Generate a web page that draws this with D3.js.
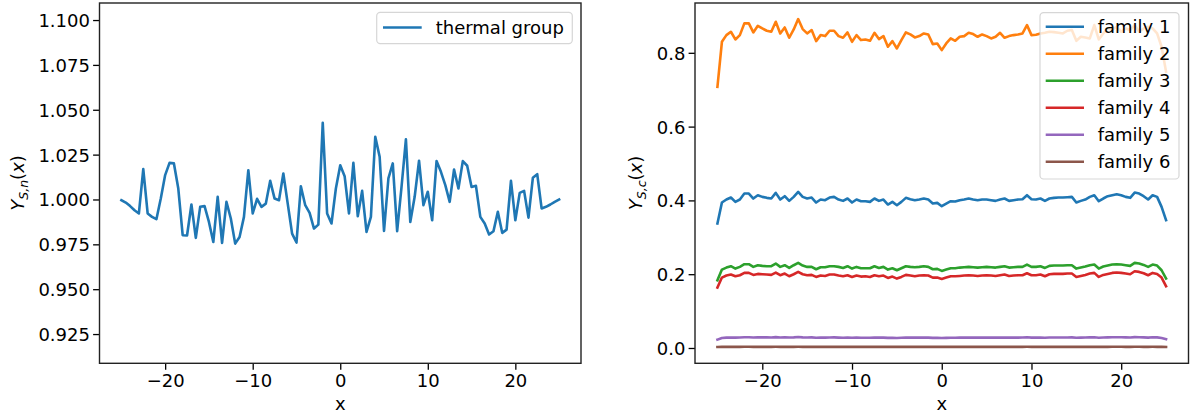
<!DOCTYPE html>
<html>
<head>
<meta charset="utf-8">
<script src="https://cdn.jsdelivr.net/npm/d3@7"></script>
<style>
  html, body { margin: 0; padding: 0; background: #fff; }
  svg { display: block; font-family: "DejaVu Sans", sans-serif; }
</style>
</head>
<body>
<svg id="chart" width="1191" height="418"></svg>
<script>
// ---------------- data ----------------
const xValues = d3.range(0, 101).map(i => -25 + 0.5 * i);

const thermalGroup = [
  0.9996, 0.9983, 0.9963, 0.9940, 0.9922, 1.0169, 0.9922, 0.9903, 0.9890, 1.0005,
  1.0136, 1.0204, 1.0201, 1.0061, 0.9801, 0.9799, 0.9972, 0.9786, 0.9959, 0.9963,
  0.9875, 0.9763, 1.0015, 0.9758, 0.9987, 0.9894, 0.9754, 0.9791, 0.9903, 1.0163,
  0.9922, 1.0004, 0.9959, 0.9977, 1.0104, 1.0005, 0.9996, 1.0145, 0.9977, 0.9810,
  0.9760, 1.0074, 0.9968, 0.9925, 0.9838, 0.9860, 1.0427, 0.9922, 0.9866, 1.0061,
  1.0191, 1.0130, 0.9922, 1.0204, 0.9907, 1.0048, 0.9819, 0.9903, 1.0349, 1.0238,
  0.9825, 1.0117, 1.0201, 0.9823, 1.0070, 1.0335, 0.9875, 1.0015, 1.0216, 0.9968,
  1.0043, 0.9884, 1.0214, 1.0154, 1.0080, 0.9987, 1.0167, 1.0061, 1.0214, 1.0188,
  1.0070, 1.0076, 0.9903, 0.9866, 0.9805, 0.9823, 0.9931, 0.9814, 0.9832, 1.0104,
  0.9884, 1.0037, 1.0048, 0.9899, 1.0121, 1.0141, 0.9950, 0.9959, 0.9972, 0.9987,
  1.0000
];

const family1 = [
  0.3373, 0.3942, 0.4024, 0.4078, 0.3960, 0.4024, 0.4186, 0.4186, 0.4051, 0.4141,
  0.4096, 0.4069, 0.4051, 0.4204, 0.4024, 0.4114, 0.3987, 0.4096, 0.4231, 0.4096,
  0.4051, 0.4078, 0.3942, 0.4024, 0.4005, 0.4078, 0.4096, 0.4024, 0.3987, 0.4051,
  0.3942, 0.4024, 0.3978, 0.3978, 0.3960, 0.4051, 0.3987, 0.4024, 0.3888, 0.3960,
  0.3870, 0.3960, 0.4069, 0.4033, 0.4005, 0.4024, 0.4051, 0.4024, 0.3915, 0.3933,
  0.3843, 0.3915, 0.3978, 0.3969, 0.4005, 0.4024, 0.4051, 0.4024, 0.4005, 0.4024,
  0.4024, 0.4005, 0.3987, 0.4024, 0.4051, 0.3987, 0.4005, 0.4024, 0.4033, 0.4141,
  0.4033, 0.4024, 0.4051, 0.3987, 0.4051, 0.4069, 0.4078, 0.4078, 0.4087, 0.4096,
  0.3942, 0.3987, 0.4024, 0.4096, 0.4141, 0.3978, 0.4051, 0.4114, 0.4141, 0.4168,
  0.4141, 0.4096, 0.4069, 0.4213, 0.4186, 0.4114, 0.4024, 0.4141, 0.4096, 0.3825,
  0.3463
];

const family2 = [
  0.7079, 0.8299, 0.8480, 0.8570, 0.8362, 0.8480, 0.8797, 0.8797, 0.8552, 0.8733,
  0.8661, 0.8598, 0.8570, 0.8842, 0.8525, 0.8688, 0.8408, 0.8634, 0.8914, 0.8643,
  0.8525, 0.8616, 0.8317, 0.8480, 0.8453, 0.8598, 0.8598, 0.8453, 0.8408, 0.8552,
  0.8299, 0.8480, 0.8345, 0.8362, 0.8326, 0.8543, 0.8371, 0.8453, 0.8164, 0.8317,
  0.8118, 0.8345, 0.8552, 0.8498, 0.8417, 0.8453, 0.8525, 0.8498, 0.8236, 0.8254,
  0.8073, 0.8254, 0.8390, 0.8326, 0.8435, 0.8453, 0.8543, 0.8507, 0.8435, 0.8498,
  0.8453, 0.8390, 0.8435, 0.8543, 0.8408, 0.8453, 0.8480, 0.8498, 0.8525, 0.8751,
  0.8480, 0.8489, 0.8525, 0.8543, 0.8570, 0.8561, 0.8543, 0.8525, 0.8598, 0.8616,
  0.8326, 0.8435, 0.8417, 0.8390, 0.8751, 0.8362, 0.8525, 0.8661, 0.8634, 0.8706,
  0.8570, 0.8661, 0.8616, 0.8751, 0.8570, 0.8661, 0.8706, 0.8661, 0.8525, 0.8164,
  0.7485
];

const family3 = [
  0.1836, 0.2125, 0.2179, 0.2216, 0.2152, 0.2198, 0.2270, 0.2270, 0.2198, 0.2243,
  0.2225, 0.2216, 0.2216, 0.2288, 0.2198, 0.2243, 0.2170, 0.2243, 0.2306, 0.2234,
  0.2198, 0.2198, 0.2134, 0.2188, 0.2188, 0.2216, 0.2216, 0.2198, 0.2170, 0.2216,
  0.2152, 0.2198, 0.2161, 0.2161, 0.2161, 0.2216, 0.2170, 0.2198, 0.2125, 0.2161,
  0.2107, 0.2161, 0.2216, 0.2198, 0.2188, 0.2198, 0.2216, 0.2198, 0.2134, 0.2143,
  0.2089, 0.2125, 0.2161, 0.2161, 0.2179, 0.2188, 0.2198, 0.2188, 0.2179, 0.2188,
  0.2198, 0.2188, 0.2179, 0.2198, 0.2216, 0.2179, 0.2188, 0.2198, 0.2198, 0.2261,
  0.2198, 0.2198, 0.2216, 0.2170, 0.2225, 0.2234, 0.2234, 0.2234, 0.2243, 0.2243,
  0.2152, 0.2179, 0.2207, 0.2243, 0.2261, 0.2152, 0.2207, 0.2234, 0.2261, 0.2270,
  0.2261, 0.2243, 0.2225, 0.2306, 0.2288, 0.2252, 0.2198, 0.2261, 0.2234, 0.2107,
  0.1881
];

const family4 = [
  0.1637, 0.1908, 0.1963, 0.1990, 0.1944, 0.1972, 0.2035, 0.2035, 0.1981, 0.2008,
  0.1999, 0.1990, 0.1981, 0.2044, 0.1972, 0.2017, 0.1944, 0.1999, 0.2062, 0.1999,
  0.1972, 0.1981, 0.1926, 0.1963, 0.1953, 0.1990, 0.1990, 0.1963, 0.1944, 0.1972,
  0.1926, 0.1963, 0.1935, 0.1944, 0.1926, 0.1972, 0.1944, 0.1963, 0.1899, 0.1935,
  0.1881, 0.1926, 0.1981, 0.1963, 0.1944, 0.1963, 0.1972, 0.1963, 0.1908, 0.1908,
  0.1872, 0.1908, 0.1944, 0.1944, 0.1953, 0.1963, 0.1972, 0.1963, 0.1953, 0.1963,
  0.1972, 0.1963, 0.1953, 0.1972, 0.1990, 0.1953, 0.1963, 0.1972, 0.1972, 0.2026,
  0.1972, 0.1972, 0.1990, 0.1944, 0.1999, 0.2008, 0.2008, 0.2008, 0.2017, 0.2017,
  0.1926, 0.1953, 0.1981, 0.2017, 0.2035, 0.1926, 0.1981, 0.2008, 0.2035, 0.2044,
  0.2035, 0.2017, 0.1999, 0.2080, 0.2062, 0.2026, 0.1972, 0.2035, 0.2008, 0.1908,
  0.1673
];

const family5 = [
  0.0227, 0.0272, 0.0281, 0.0285, 0.0281, 0.0285, 0.0292, 0.0292, 0.0285, 0.0290,
  0.0288, 0.0287, 0.0286, 0.0295, 0.0285, 0.0290, 0.0283, 0.0288, 0.0297, 0.0287,
  0.0285, 0.0287, 0.0278, 0.0283, 0.0282, 0.0286, 0.0287, 0.0282, 0.0279, 0.0284,
  0.0277, 0.0282, 0.0279, 0.0279, 0.0278, 0.0284, 0.0280, 0.0282, 0.0274, 0.0278,
  0.0272, 0.0278, 0.0285, 0.0282, 0.0281, 0.0282, 0.0284, 0.0282, 0.0275, 0.0276,
  0.0270, 0.0274, 0.0278, 0.0278, 0.0280, 0.0281, 0.0283, 0.0281, 0.0280, 0.0281,
  0.0282, 0.0281, 0.0280, 0.0282, 0.0284, 0.0280, 0.0281, 0.0282, 0.0283, 0.0290,
  0.0282, 0.0282, 0.0284, 0.0279, 0.0284, 0.0285, 0.0285, 0.0286, 0.0286, 0.0287,
  0.0278, 0.0281, 0.0283, 0.0287, 0.0290, 0.0279, 0.0284, 0.0288, 0.0290, 0.0291,
  0.0290, 0.0287, 0.0285, 0.0294, 0.0292, 0.0288, 0.0282, 0.0290, 0.0287, 0.0270,
  0.0237
];

const family6 = [
  0.0026, 0.0030, 0.0031, 0.0031, 0.0030, 0.0031, 0.0032, 0.0032, 0.0031, 0.0031,
  0.0031, 0.0031, 0.0031, 0.0032, 0.0031, 0.0031, 0.0030, 0.0031, 0.0032, 0.0031,
  0.0031, 0.0031, 0.0030, 0.0031, 0.0031, 0.0031, 0.0031, 0.0031, 0.0030, 0.0031,
  0.0030, 0.0031, 0.0030, 0.0030, 0.0030, 0.0031, 0.0030, 0.0031, 0.0030, 0.0030,
  0.0029, 0.0030, 0.0031, 0.0031, 0.0030, 0.0031, 0.0031, 0.0031, 0.0030, 0.0030,
  0.0029, 0.0030, 0.0030, 0.0030, 0.0030, 0.0030, 0.0031, 0.0030, 0.0030, 0.0030,
  0.0030, 0.0030, 0.0030, 0.0031, 0.0031, 0.0030, 0.0030, 0.0031, 0.0031, 0.0032,
  0.0031, 0.0030, 0.0031, 0.0030, 0.0031, 0.0031, 0.0031, 0.0031, 0.0031, 0.0031,
  0.0030, 0.0030, 0.0031, 0.0031, 0.0032, 0.0030, 0.0031, 0.0031, 0.0032, 0.0032,
  0.0032, 0.0031, 0.0031, 0.0032, 0.0032, 0.0031, 0.0031, 0.0032, 0.0031, 0.0029,
  0.0026
];

const familyNames = ["family 1", "family 2", "family 3", "family 4", "family 5", "family 6"];
const familyColors = ["#1f77b4", "#ff7f0e", "#2ca02c", "#d62728", "#9467bd", "#8c564b"];
const familySeries = [family1, family2, family3, family4, family5, family6];

const leftXTicks = [-20, -10, 0, 10, 20];
const leftYTicks = [0.925, 0.950, 0.975, 1.000, 1.025, 1.050, 1.075, 1.100];
const rightXTicks = [-20, -10, 0, 10, 20];
const rightYTicks = [0.0, 0.2, 0.4, 0.6, 0.8];

// ---------------- drawing ----------------
const svg = d3.select("#chart");
const FS = 18;
const LW = 2.6;
const fmtMinus = s => s.replace("-", "\u2212");

function drawAxes(g, x, y, xTicks, yTicks, yFmt) {
  const [x0, x1] = x.range();
  const [y0, y1] = y.range(); // y0 bottom, y1 top
  const ax = g.append("g").attr("transform", `translate(0,${y0})`)
    .call(d3.axisBottom(x).tickValues(xTicks).tickSize(6.4).tickPadding(3)
      .tickFormat(d => fmtMinus(d3.format("d")(d))));
  const ay = g.append("g").attr("transform", `translate(${x0},0)`)
    .call(d3.axisLeft(y).tickValues(yTicks).tickSize(6.4).tickPadding(3.2)
      .tickFormat(d => fmtMinus(yFmt(d))));
  [ax, ay].forEach(a => {
    a.select(".domain").remove();
    a.selectAll(".tick line").attr("stroke", "#000").attr("stroke-width", 1.3);
    a.selectAll(".tick text").attr("fill", "#000").attr("font-size", FS)
      .attr("font-family", "DejaVu Sans, sans-serif");
  });
  ax.selectAll(".tick text").attr("dy", "0.8em");
  ay.selectAll(".tick text").attr("dy", "0.36em");
  // frame
  g.append("rect").attr("x", x0).attr("y", y1).attr("width", x1 - x0).attr("height", y0 - y1)
    .attr("fill", "none").attr("stroke", "#222").attr("stroke-width", 1.4);
}

function mathLabel(g, tx, ty, sub) {
  const t = g.append("text")
    .attr("transform", `translate(${tx},${ty}) rotate(-90)`)
    .attr("text-anchor", "middle").attr("font-size", FS).attr("fill", "#000");
  t.append("tspan").attr("font-style", "italic").text("Y");
  t.append("tspan").attr("font-style", "italic").attr("font-size", FS * 0.7).attr("dy", 4).text(sub);
  t.append("tspan").attr("dy", -4).text("(");
  t.append("tspan").attr("font-style", "italic").text("x");
  t.append("tspan").text(")");
}

function legend(g, bx, by, bw, bh, rows) {
  g.append("rect").attr("x", bx).attr("y", by).attr("width", bw).attr("height", bh)
    .attr("rx", 3.6).attr("ry", 3.6)
    .attr("fill", "#fff").attr("fill-opacity", 0.8)
    .attr("stroke", "#cccccc").attr("stroke-opacity", 0.8).attr("stroke-width", 1.2);
  rows.forEach(r => {
    g.append("line").attr("x1", r.lx1).attr("x2", r.lx2).attr("y1", r.cy).attr("y2", r.cy)
      .attr("stroke", r.color).attr("stroke-width", LW);
    g.append("text").attr("x", r.tx).attr("y", r.cy + 6.6).attr("font-size", FS)
      .attr("fill", "#000").text(r.label);
  });
}

// ---- left panel ----
const gL = svg.append("g");
const xL = d3.scaleLinear().domain([-27.5, 27.5]).range([99.5, 581]);
const yL = d3.scaleLinear().domain([0.9087, 1.1095]).range([363.3, 3]);
drawAxes(gL, xL, yL, leftXTicks, leftYTicks, d3.format(".3f"));

const lineL = d3.line().x((d, i) => xL(xValues[i])).y(d => yL(d));
gL.append("path").datum(thermalGroup).attr("d", lineL)
  .attr("fill", "none").attr("stroke", "#1f77b4").attr("stroke-width", LW)
  .attr("stroke-linejoin", "round").attr("stroke-linecap", "square");

gL.append("text").attr("x", (99.5 + 581) / 2).attr("y", 410).attr("text-anchor", "middle")
  .attr("font-size", FS).attr("fill", "#000").text("x");
mathLabel(gL, 24, 183, "S,n");

legend(gL, 376.7, 12.3, 195.6, 31.4, [
  { lx1: 383, lx2: 421.7, cy: 27.5, tx: 435.7, color: "#1f77b4", label: "thermal group" }
]);

// ---- right panel ----
const gR = svg.append("g");
const xR = d3.scaleLinear().domain([-27.5, 27.5]).range([695, 1188.5]);
const yR = d3.scaleLinear().domain([-0.0415, 0.935]).range([363.3, 3]);
drawAxes(gR, xR, yR, rightXTicks, rightYTicks, d3.format(".1f"));

const lineR = d3.line().x((d, i) => xR(xValues[i])).y(d => yR(d));
familySeries.forEach((s, k) => {
  gR.append("path").datum(s).attr("d", lineR)
    .attr("fill", "none").attr("stroke", familyColors[k]).attr("stroke-width", LW)
    .attr("stroke-linejoin", "round").attr("stroke-linecap", "square");
});

gR.append("text").attr("x", (695 + 1188.5) / 2).attr("y", 410).attr("text-anchor", "middle")
  .attr("font-size", FS).attr("fill", "#000").text("x");
mathLabel(gR, 642, 183, "S,c");

legend(gR, 1040, 12.7, 139, 166.3, familyNames.map((n, k) => ({
  lx1: 1045.7, lx2: 1084, cy: 26.7 + k * 27.0, tx: 1097.7, color: familyColors[k], label: n
})));
</script>
</body>
</html>
